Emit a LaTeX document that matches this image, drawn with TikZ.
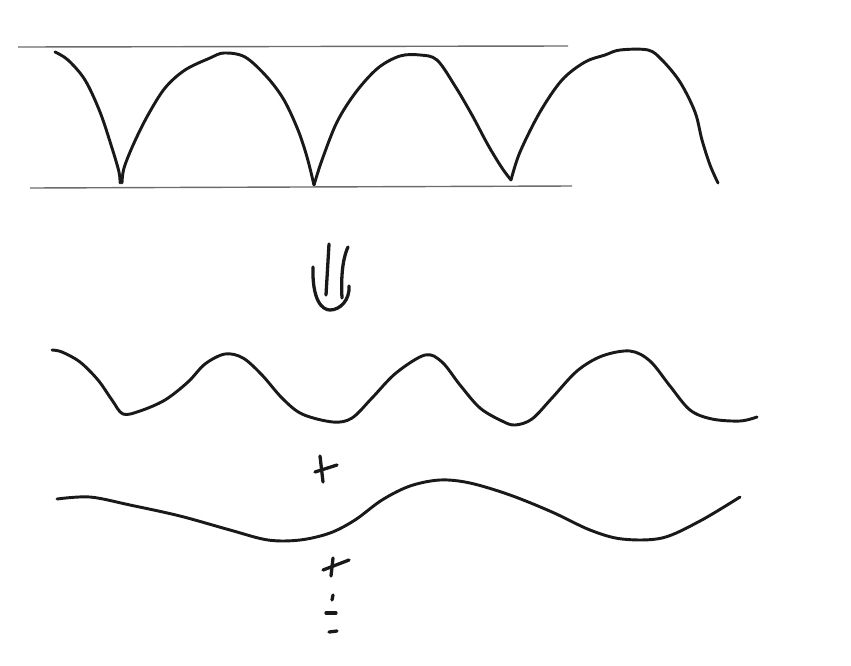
\documentclass[tikz,border=0pt]{standalone}
\tikzset{
  wave/.style={line width=2.5pt, line cap=round, line join=round, black!90},
  guide/.style={line width=1.2pt, gray!85!black},
  mark stroke/.style={line width=2.8pt, line cap=round, black!90}
}
\begin{document}
\begin{tikzpicture}[x=0.03cm, y=-0.03cm]
\useasboundingbox (0,0) rectangle (851,665);

% bounding lines
\draw[guide] (18,47) -- (568,46);
\draw[guide] (30,188) -- (572,186);

% cusped wave
\draw[wave] plot[smooth, tension=0.55] coordinates {(55,52) (68,60) (85,80) (100,112) (112,148) (119,172) (120,183)};
\draw[wave] plot[smooth, tension=0.55] coordinates {(122,183) (124,168) (134,143) (148,115) (165,88) (185,70) (210,58) (224,53) (245,57) (267,77) (284,100) (298,130) (307,157) (314,185)};
\draw[wave] plot[smooth, tension=0.55] coordinates {(314,185) (322,160) (337,122) (356,92) (378,68) (400,56) (420,55) (437,60) (455,86) (472,115) (488,145) (502,168) (511,180)};
\draw[wave] plot[smooth, tension=0.55] coordinates {(511,180) (520,152) (540,112) (562,80) (585,62) (605,55) (620,50) (648,50) (662,60) (680,82) (695,112) (702,140) (710,165) (718,183)};

% double arrow
\draw[mark stroke] (329,244) -- (326,295);
\draw[mark stroke] (348,247) .. controls (342,260) and (341,280) .. (342,298);
\draw[mark stroke] (313,267) .. controls (312,300) and (322,310) .. (330,310) .. controls (340,310) and (350,300) .. (349,286);

% smoothed wave
\draw[wave] plot[smooth, tension=0.55] coordinates {(52,350) (62,352) (80,362) (98,380) (112,400) (123,414) (140,411) (165,400) (188,382) (205,364) (225,354) (243,358) (262,375) (282,398) (302,414) (333,422) (352,418) (372,398) (396,373) (425,355) (442,362) (460,385) (480,408) (502,421) (515,425) (532,419) (552,398) (577,371) (602,356) (630,351) (650,361) (670,386) (690,410) (712,419) (740,421) (757,417)};

% plus
\draw[mark stroke] (320,456) -- (323,482);
\draw[mark stroke] (315,472) -- (337,465);

% long wave
\draw[wave] plot[smooth, tension=0.55] coordinates {(57,499) (90,497) (130,505) (180,516) (230,530) (268,540) (300,540) (330,533) (355,520) (382,500) (410,486) (440,480) (470,483) (510,495) (552,512) (590,530) (622,539) (662,538) (700,521) (740,497)};

% plus
\draw[mark stroke] (333,558) -- (331,576);
\draw[mark stroke] (323,570) -- (349,560);

% dots
\draw[mark stroke] (333,595) -- (332,600);
\draw[mark stroke] (326,613) -- (336,613);
\draw[mark stroke] (329,632) -- (337,631);
\end{tikzpicture}
\end{document}
